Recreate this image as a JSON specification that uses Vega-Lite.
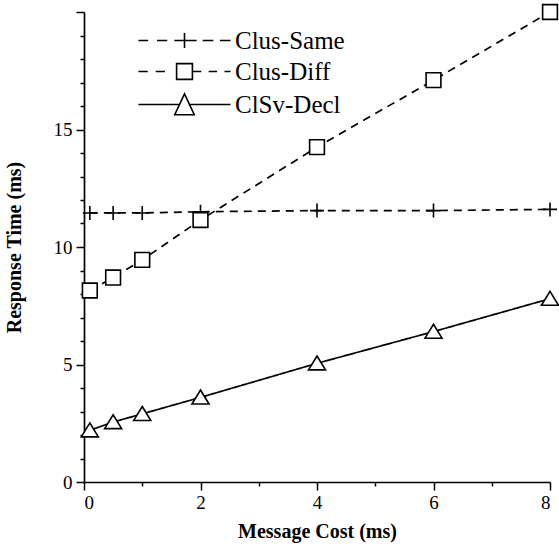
{
  "$schema": "https://vega.github.io/schema/vega-lite/v6.json",
  "width": 466,
  "height": 470,
  "autosize": {"type": "none"},
  "padding": {"left": 84, "top": 12, "right": 9, "bottom": 64},
  "background": "white",
  "config": {
    "view": {"stroke": null},
    "font": "Liberation Serif",
    "axis": {
      "domainColor": "black",
      "domainWidth": 1.7,
      "tickColor": "black",
      "tickWidth": 1.5,
      "grid": false,
      "labelFont": "Liberation Serif",
      "labelFontSize": 19,
      "labelColor": "black",
      "titleFont": "Liberation Serif",
      "titleFontSize": 20,
      "titleFontWeight": "bold",
      "titleColor": "black"
    }
  },
  "data": {
    "values": [
      {"series": "Clus-Same", "cost": 0.1, "time": 11.45},
      {"series": "Clus-Same", "cost": 0.5, "time": 11.45},
      {"series": "Clus-Same", "cost": 1, "time": 11.45},
      {"series": "Clus-Same", "cost": 2, "time": 11.5},
      {"series": "Clus-Same", "cost": 4, "time": 11.55},
      {"series": "Clus-Same", "cost": 6, "time": 11.55},
      {"series": "Clus-Same", "cost": 8, "time": 11.6},
      {"series": "Clus-Diff", "cost": 0.1, "time": 8.15},
      {"series": "Clus-Diff", "cost": 0.5, "time": 8.7},
      {"series": "Clus-Diff", "cost": 1, "time": 9.45},
      {"series": "Clus-Diff", "cost": 2, "time": 11.15},
      {"series": "Clus-Diff", "cost": 4, "time": 14.25},
      {"series": "Clus-Diff", "cost": 6, "time": 17.1},
      {"series": "Clus-Diff", "cost": 8, "time": 20},
      {"series": "ClSv-Decl", "cost": 0.1, "time": 2.2},
      {"series": "ClSv-Decl", "cost": 0.5, "time": 2.55},
      {"series": "ClSv-Decl", "cost": 1, "time": 2.9},
      {"series": "ClSv-Decl", "cost": 2, "time": 3.6},
      {"series": "ClSv-Decl", "cost": 4, "time": 5.05},
      {"series": "ClSv-Decl", "cost": 6, "time": 6.4},
      {"series": "ClSv-Decl", "cost": 8, "time": 7.8}
    ]
  },
  "encoding": {
    "x": {
      "field": "cost",
      "type": "quantitative",
      "scale": {"domain": [0, 8], "nice": false},
      "axis": {
        "title": "Message Cost (ms)",
        "values": [0, 1, 2, 3, 4, 5, 6, 7, 8],
        "labelExpr": "datum.value % 2 === 0 ? datum.label : ''",
        "tickSize": {"condition": {"test": "datum.value % 2 === 0", "value": 8}, "value": 4},
        "labelPadding": 3,
        "titlePadding": 9
      }
    },
    "y": {
      "field": "time",
      "type": "quantitative",
      "scale": {"domain": [0, 20], "nice": false},
      "axis": {
        "title": "Response Time (ms)",
        "values": [0, 1, 2, 3, 4, 5, 6, 7, 8, 9, 10, 11, 12, 13, 14, 15, 16, 17, 18, 19, 20],
        "labelExpr": "datum.value % 5 === 0 && datum.value < 20 ? datum.label : ''",
        "tickSize": {"condition": {"test": "datum.value % 5 === 0", "value": 8}, "value": 4},
        "labelPadding": 4,
        "titlePadding": 29
      }
    }
  },
  "layer": [
    {
      "mark": {"type": "line", "stroke": "black", "strokeWidth": 1.7},
      "encoding": {
        "detail": {"field": "series", "type": "nominal"},
        "strokeDash": {
          "field": "series",
          "type": "nominal",
          "scale": {"domain": ["Clus-Same", "Clus-Diff", "ClSv-Decl"], "range": [[8, 6], [8, 6], [1, 0]]},
          "legend": null
        }
      }
    },
    {
      "mark": {"type": "point", "filled": true, "fill": "white", "stroke": "black", "strokeWidth": 1.6, "opacity": 1},
      "encoding": {
        "shape": {
          "field": "series",
          "type": "nominal",
          "scale": {
            "domain": ["Clus-Same", "Clus-Diff", "ClSv-Decl"],
            "range": ["M-1,0H1M0,-1V1", "square", "M0,-0.95L1.1,0.85L-1.1,0.85Z"]
          },
          "legend": null
        },
        "size": {
          "field": "series",
          "type": "nominal",
          "scale": {"domain": ["Clus-Same", "Clus-Diff", "ClSv-Decl"], "range": [196, 240, 256]},
          "legend": null
        }
      }
    },
    {
      "mark": {"type": "point", "filled": false, "stroke": "black", "strokeWidth": 1.6, "opacity": 0},
      "encoding": {
        "shape": {
          "field": "series",
          "type": "nominal",
          "scale": {
            "domain": ["Clus-Same", "Clus-Diff", "ClSv-Decl"],
            "range": [
              "M-4.95,0H-3.9M-2.95,0H-1.85M-1.1,0H1.3M0,-0.8V0.8M1.95,0H3.1M3.8,0H4.95",
              "M-4.95,0H-3.95M-3.1,0H-2.1M-0.85,-0.85H0.85V0.85H-0.85ZM0.85,0H1.8M2.6,0H3.5M4.3,0H4.95",
              "M-4.95,0H-0.55M0.55,0H4.95M0,-1.15L1.05,1.1L-1.05,1.1Z"
            ]
          },
          "legend": {
            "orient": "none",
            "legendX": 88,
            "legendY": 16,
            "title": null,
            "padding": 0,
            "symbolSize": 346,
            "symbolOpacity": 1,
            "symbolStrokeWidth": 1.6,
            "symbolStrokeColor": "black",
            "labelFont": "Liberation Serif",
            "labelFontSize": 25,
            "labelColor": "black",
            "labelOffset": 38,
            "labelLimit": 300,
            "rowPadding": 5
          }
        }
      }
    }
  ],
  "resolve": {"scale": {"shape": "independent"}, "legend": {"shape": "independent"}}
}
